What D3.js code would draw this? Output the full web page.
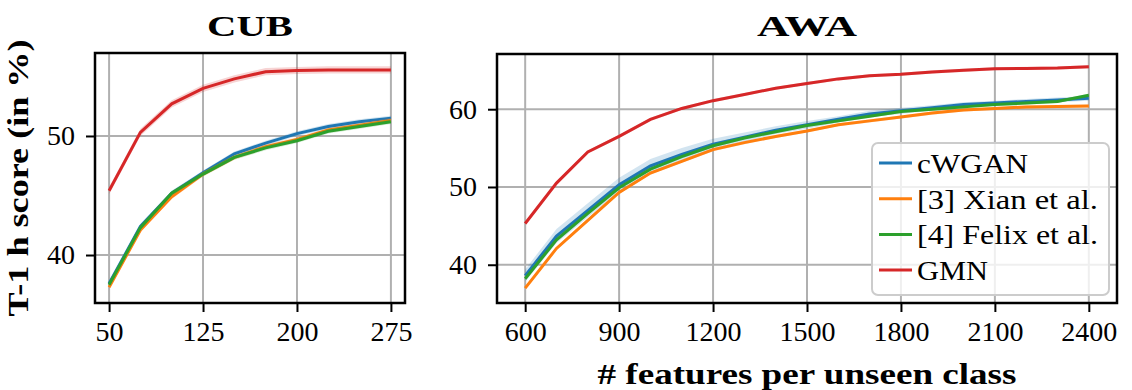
<!DOCTYPE html>
<html>
<head>
<meta charset="utf-8">
<script src="https://cdn.jsdelivr.net/npm/d3@7"></script>
<style>
body { margin: 0; background: #fff; }
svg text { font-family: "Liberation Serif", "Times New Roman", serif; fill: #000; }
</style>
</head>
<body>
<svg id="chart" width="1132" height="390"></svg>
<script>
var seriesNames = ["cWGAN", "[3] Xian et al.", "[4] Felix et al.", "GMN"];
var seriesColors = ["#1f77b4", "#ff7f0e", "#2ca02c", "#d62728"];

var cubX = [50, 75, 100, 125, 150, 175, 200, 225, 250, 275];
var cubCWGAN = [37.6, 42.4, 45.2, 46.9, 48.5, 49.4, 50.2, 50.8, 51.2, 51.5];
var cubXian = [37.3, 42.1, 44.9, 46.8, 48.2, 49.1, 49.7, 50.5, 50.9, 51.3];
var cubFelix = [37.5, 42.3, 45.2, 46.8, 48.2, 49.0, 49.6, 50.4, 50.8, 51.2];
var cubGMN = [45.4, 50.3, 52.7, 54.0, 54.8, 55.4, 55.5, 55.55, 55.55, 55.55];
var cubStd = [0.2, 0.2, 0.2, 0.3];
var cubXTicks = [50, 125, 200, 275];
var cubYTicks = [40, 50];

var awaX = [600, 700, 800, 900, 1000, 1100, 1200, 1300, 1400, 1500, 1600, 1700, 1800, 1900, 2000, 2100, 2200, 2300, 2400];
var awaCWGAN = [38.6, 43.7, 47.0, 50.3, 52.7, 54.2, 55.5, 56.4, 57.3, 58.0, 58.7, 59.4, 59.8, 60.2, 60.6, 60.8, 61.0, 61.2, 61.4];
var awaXian = [37.0, 42.1, 45.7, 49.3, 51.8, 53.3, 54.8, 55.7, 56.5, 57.2, 58.0, 58.5, 59.0, 59.5, 59.9, 60.1, 60.3, 60.35, 60.4];
var awaFelix = [38.2, 43.2, 46.6, 49.9, 52.3, 53.9, 55.3, 56.3, 57.1, 57.9, 58.5, 59.1, 59.7, 60.0, 60.3, 60.6, 60.8, 61.0, 61.8];
var awaGMN = [45.3, 50.5, 54.5, 56.5, 58.7, 60.1, 61.1, 61.9, 62.7, 63.3, 63.9, 64.3, 64.5, 64.8, 65.0, 65.2, 65.25, 65.3, 65.45];
var awaCWGANStd = [0.8, 0.9, 0.9, 0.9, 0.9, 0.8, 0.7, 0.6, 0.5, 0.5, 0.4, 0.4, 0.4, 0.3, 0.3, 0.3, 0.3, 0.3, 0.3];
var awaStd = [0.2, 0.2, 0.2];
var awaXTicks = [600, 900, 1200, 1500, 1800, 2100, 2400];
var awaYTicks = [40, 50, 60];

var svg = d3.select("#chart");

function drawPanel(cfg) {
	var x = d3.scaleLinear().domain(cfg.xDomain).range([cfg.left, cfg.right]);
	var y = d3.scaleLinear().domain(cfg.yDomain).range([cfg.bottom, cfg.top]);
	var g = svg.append("g");

	// grid
	g.append("g").selectAll("line").data(cfg.xTicks).enter().append("line")
		.attr("x1", function(d) { return x(d); }).attr("x2", function(d) { return x(d); })
		.attr("y1", cfg.top).attr("y2", cfg.bottom)
		.attr("stroke", "#b0b0b0").attr("stroke-width", 2);
	g.append("g").selectAll("line").data(cfg.yTicks).enter().append("line")
		.attr("y1", function(d) { return y(d); }).attr("y2", function(d) { return y(d); })
		.attr("x1", cfg.left).attr("x2", cfg.right)
		.attr("stroke", "#b0b0b0").attr("stroke-width", 2);

	var area = d3.area()
		.x(function(d) { return x(d.x); })
		.y0(function(d) { return y(d.v - d.s); })
		.y1(function(d) { return y(d.v + d.s); });
	var line = d3.line()
		.x(function(d) { return x(d.x); })
		.y(function(d) { return y(d.v); });

	cfg.series.forEach(function(s, i) {
		var pts = cfg.xs.map(function(xv, j) {
			return { x: xv, v: s[j], s: Array.isArray(cfg.std[i]) ? cfg.std[i][j] : cfg.std[i] };
		});
		g.append("path").attr("d", area(pts))
			.attr("fill", seriesColors[i]).attr("fill-opacity", 0.2).attr("stroke", "none");
		g.append("path").attr("d", line(pts))
			.attr("fill", "none").attr("stroke", seriesColors[i]).attr("stroke-width", 3);
	});

	// frame
	g.append("rect")
		.attr("x", cfg.left).attr("y", cfg.top)
		.attr("width", cfg.right - cfg.left).attr("height", cfg.bottom - cfg.top)
		.attr("fill", "none").attr("stroke", "#000").attr("stroke-width", 2.5);

	var xAxis = d3.axisBottom(x).tickValues(cfg.xTicks).tickSize(9).tickPadding(9).tickFormat(d3.format("d"));
	var yAxis = d3.axisLeft(y).tickValues(cfg.yTicks).tickSize(9).tickPadding(11).tickFormat(d3.format("d"));

	var xa = g.append("g").attr("transform", "translate(0," + cfg.bottom + ")").call(xAxis);
	var ya = g.append("g").attr("transform", "translate(" + cfg.left + ",0)").call(yAxis);
	[xa, ya].forEach(function(a) {
		a.select(".domain").remove();
		a.selectAll(".tick line").attr("stroke", "#000").attr("stroke-width", 2);
		a.selectAll(".tick text").attr("font-size", 28).attr("font-family", "Liberation Serif");
	});

	g.append("text")
		.attr("x", (cfg.left + cfg.right) / 2).attr("y", 36)
		.attr("text-anchor", "middle")
		.attr("font-size", 30).attr("font-weight", "bold")
		.attr("textLength", cfg.titleLen).attr("lengthAdjust", "spacingAndGlyphs")
		.text(cfg.title);

	return { x: x, y: y, g: g };
}

drawPanel({
	title: "CUB", titleLen: 86,
	left: 95, right: 405, top: 53, bottom: 303,
	xDomain: [38.75, 286.25], yDomain: [35.97, 56.97],
	xs: cubX, series: [cubCWGAN, cubXian, cubFelix, cubGMN], std: cubStd,
	xTicks: cubXTicks, yTicks: cubYTicks
});

var awa = drawPanel({
	title: "AWA", titleLen: 100,
	left: 497, right: 1117, top: 54, bottom: 303,
	xDomain: [510, 2490], yDomain: [35.08, 67.1],
	xs: awaX, series: [awaCWGAN, awaXian, awaFelix, awaGMN], std: [awaCWGANStd].concat(awaStd).concat([0.2]),
	xTicks: awaXTicks, yTicks: awaYTicks
});

// axis labels
svg.append("text")
	.attr("transform", "translate(28,178) rotate(-90)")
	.attr("text-anchor", "middle")
	.attr("font-size", 29).attr("font-weight", "bold")
	.attr("textLength", 277).attr("lengthAdjust", "spacingAndGlyphs")
	.text("T-1 h score (in %)");

svg.append("text")
	.attr("x", 807).attr("y", 384)
	.attr("text-anchor", "middle")
	.attr("font-size", 29).attr("font-weight", "bold")
	.attr("textLength", 419).attr("lengthAdjust", "spacingAndGlyphs")
	.text("# features per unseen class");

// legend
var legendLens = [111, 181, 181, 71];
var legend = svg.append("g");
legend.append("rect")
	.attr("x", 872).attr("y", 143).attr("width", 237).attr("height", 152)
	.attr("rx", 6).attr("fill", "#fff").attr("fill-opacity", 0.8)
	.attr("stroke", "#cccccc").attr("stroke-width", 2);
var rows = legend.selectAll(".row").data(seriesNames).enter().append("g")
	.attr("class", "row")
	.attr("transform", function(d, i) { return "translate(0," + (163 + i * 35.7) + ")"; });
rows.append("line")
	.attr("x1", 879).attr("x2", 912).attr("y1", 0).attr("y2", 0)
	.attr("stroke", function(d, i) { return seriesColors[i]; }).attr("stroke-width", 3);
rows.append("text")
	.attr("x", 917).attr("y", 10)
	.attr("font-size", 27)
	.attr("textLength", function(d, i) { return legendLens[i]; })
	.attr("lengthAdjust", "spacingAndGlyphs")
	.text(function(d) { return d; });
</script>
</body>
</html>
